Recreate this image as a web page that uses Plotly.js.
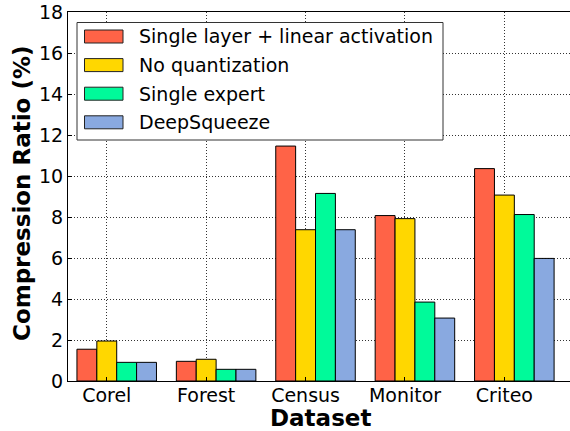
<!DOCTYPE html>
<html>
<head>
<meta charset="utf-8">
<script src="https://cdn.plot.ly/plotly-3.0.1.min.js"></script>
<style>
  html, body { margin: 0; padding: 0; background: #fff; }
  #chart { width: 570px; height: 431px; }
</style>
</head>
<body>
<div id="chart"></div>
<script>
// Compression ratio (%) per dataset for each model variant
const datasets = ["Corel", "Forest", "Census", "Monitor", "Criteo"];
const seriesNames = ["Single layer + linear activation", "No quantization", "Single expert", "DeepSqueeze"];
const singleLayerLinear = [1.55, 0.96, 11.46, 8.07, 10.36];
const noQuantization    = [1.95, 1.06, 7.38, 7.92, 9.07];
const singleExpert      = [0.91, 0.57, 9.15, 3.85, 8.12];
const deepSqueeze       = [0.91, 0.57, 7.38, 3.07, 5.98];
const yTicks = [0, 2, 4, 6, 8, 10, 12, 14, 16, 18];

const seriesValues = [singleLayerLinear, noQuantization, singleExpert, deepSqueeze];
const colors = ["#FF6347", "#FFD700", "#00FA9A", "#89A9E0"];
// left edge of each bar relative to the dataset tick (in category units)
const offsets = [-0.3, -0.1, 0.1, 0.3];
const barWidth = 0.2;

const font = "DejaVu Sans, sans-serif";

const traces = seriesValues.map((vals, i) => ({
  type: "bar",
  name: seriesNames[i],
  x: datasets,
  y: vals,
  width: barWidth,
  offset: offsets[i],
  marker: { color: colors[i], line: { color: "#000", width: 1 } },
  showlegend: false,
  hoverinfo: "x+y"
}));

// Legend drawn as a framed box with wide swatches
const shapes = [];
const annotations = [];
const W = 570, H = 431;
const mL = 68, mR = 0, mT = 12, mB = 50;
const pw = W - mL - mR, ph = H - mT - mB;
const px = v => (v - mL) / pw;          // pixel x -> paper x
const py = v => (H - mB - v) / ph;      // pixel y -> paper y

shapes.push({
  type: "rect", xref: "paper", yref: "paper",
  x0: px(77), x1: px(443), y0: py(140), y1: py(22.5),
  line: { color: "#333", width: 1 }, fillcolor: "#fff", layer: "above"
});
seriesNames.forEach((name, i) => {
  const cy = 36.5 + i * 28.6;
  shapes.push({
    type: "rect", xref: "paper", yref: "paper",
    x0: px(84.5), x1: px(123), y0: py(cy + 6.5), y1: py(cy - 6.5),
    line: { color: "#222", width: 1 }, fillcolor: colors[i], layer: "above"
  });
  annotations.push({
    xref: "paper", yref: "paper", x: px(137), y: py(cy),
    xanchor: "left", yanchor: "middle", showarrow: false,
    text: name, font: { family: font, size: 19, color: "#000" }
  });
});

// Axis titles placed as paper-anchored text
annotations.push({
  xref: "paper", yref: "paper", x: px(320), y: py(418),
  xanchor: "center", yanchor: "middle", showarrow: false,
  text: "<b>Dataset</b>", font: { family: font, size: 23, color: "#000" }
});
annotations.push({
  xref: "paper", yref: "paper", x: px(22), y: py(193),
  xanchor: "center", yanchor: "middle", showarrow: false, textangle: -90,
  text: "<b>Compression Ratio (%)</b>", font: { family: font, size: 23, color: "#000" }
});

const gridDash = "1px,2px";

const layout = {
  width: W, height: H,
  margin: { l: mL, r: mR, t: mT, b: mB, pad: 0 },
  paper_bgcolor: "#fff",
  plot_bgcolor: "#fff",
  barmode: "overlay",
  showlegend: false,
  font: { family: font, size: 19, color: "#000" },
  xaxis: {
    type: "category",
    range: [-0.39, 4.66],
    showline: true, mirror: true, linecolor: "#000", linewidth: 1,
    ticks: "inside", ticklen: 4, tickcolor: "#000",
    ticklabelstandoff: -3,
    showgrid: true, gridcolor: "#333", gridwidth: 1, griddash: gridDash,
    tickfont: { family: font, size: 19, color: "#000" },
    zeroline: false, automargin: false
  },
  yaxis: {
    range: [0, 18],
    tickvals: yTicks,
    showline: true, mirror: false, linecolor: "#000", linewidth: 1,
    ticks: "inside", ticklen: 4, tickcolor: "#000",
    showgrid: true, gridcolor: "#333", gridwidth: 1, griddash: gridDash,
    tickfont: { family: font, size: 19, color: "#000" },
    zeroline: false, automargin: false
  },
  shapes: shapes,
  annotations: annotations
};

Plotly.newPlot("chart", traces, layout, { displayModeBar: false, staticPlot: true });
</script>
</body>
</html>
